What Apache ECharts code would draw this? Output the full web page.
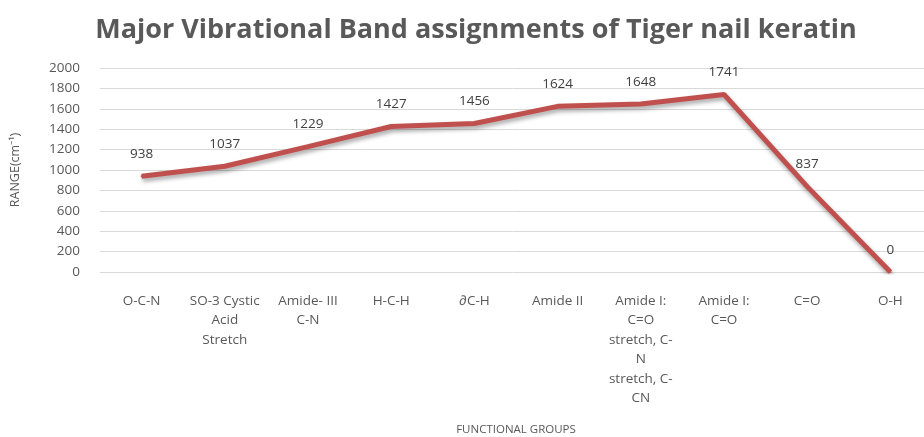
<!DOCTYPE html>
<html>
<head>
<meta charset="utf-8">
<script src="https://cdn.jsdelivr.net/npm/echarts@6/dist/echarts.min.js"></script>
<style>
  html, body { margin: 0; padding: 0; background: #ffffff; }
  #chart { width: 924px; height: 437px; }
</style>
</head>
<body>
<div id="chart"></div>
<script>
// Functional group categories along the x axis
const groups = [
  'O-C-N',
  'SO-3 Cystic\nAcid\nStretch',
  'Amide- III\nC-N',
  'H-C-H',
  '\u2202C-H',
  'Amide II',
  'Amide I:\nC=O\nstretch, C-\nN\nstretch, C-\nCN',
  'Amide I:\nC=O',
  'C=O',
  'O-H'
];

// Wavenumber of each band (cm-1)
const bandRange = [938, 1037, 1229, 1427, 1456, 1624, 1648, 1741, 837, 0];

// Y axis scale
const yMin = 0;
const yMax = 2000;
const yStep = 200;

const chart = echarts.init(document.getElementById('chart'), null, { renderer: 'canvas' });
const fontFamily = '"Open Sans", "Liberation Sans", sans-serif';
const textGray = '#595959';
const lineRed = '#c0504d';

chart.setOption({
  animation: false,
  backgroundColor: '#ffffff',
  title: {
    text: 'Major Vibrational Band assignments of Tiger nail keratin',
    left: 471,
    textAlign: 'center',
    top: 12,
    textStyle: {
      fontFamily: fontFamily,
      fontSize: 27,
      fontWeight: 'bold',
      color: textGray
    }
  },
  grid: {
    left: 100,
    right: -8,
    top: 68,
    bottom: 165,
    containLabel: false,
    outerBoundsMode: 'none'
  },
  xAxis: {
    type: 'category',
    data: groups,
    boundaryGap: true,
    name: 'FUNCTIONAL GROUPS',
    nameLocation: 'middle',
    nameGap: 152,
    nameTextStyle: {
      fontFamily: fontFamily,
      fontSize: 11.5,
      color: textGray
    },
    axisLine: { show: false },
    axisTick: { show: false },
    axisLabel: {
      interval: 0,
      margin: 19,
      fontFamily: fontFamily,
      fontSize: 13.5,
      lineHeight: 19.5,
      color: textGray,
      align: 'center'
    }
  },
  yAxis: {
    type: 'value',
    min: yMin,
    max: yMax,
    interval: yStep,
    name: 'RANGE(cm\u207B\u00B9)',
    nameLocation: 'middle',
    nameGap: 78,
    nameRotate: 90,
    nameTextStyle: {
      fontFamily: fontFamily,
      fontSize: 12.5,
      color: textGray
    },
    axisLine: { show: false },
    axisTick: { show: false },
    axisLabel: {
      margin: 20,
      fontFamily: fontFamily,
      fontSize: 13.5,
      color: textGray,
      formatter: function (v) { return String(v); }
    },
    splitLine: {
      lineStyle: { color: '#d9d9d9', width: 1 }
    }
  },
  series: [{
    type: 'line',
    data: bandRange,
    symbol: 'circle',
    symbolSize: 2,
    showSymbol: true,
    smooth: false,
    lineStyle: {
      color: lineRed,
      width: 5,
      shadowColor: 'rgba(0,0,0,0.35)',
      shadowBlur: 4,
      shadowOffsetY: 3,
      shadowOffsetX: 1
    },
    itemStyle: { color: lineRed, borderWidth: 0 },
    label: {
      show: true,
      position: 'top',
      distance: 14,
      fontFamily: fontFamily,
      fontSize: 13.5,
      color: '#404040'
    },
    labelLayout: { hideOverlap: false }
  }]
});
</script>
</body>
</html>
